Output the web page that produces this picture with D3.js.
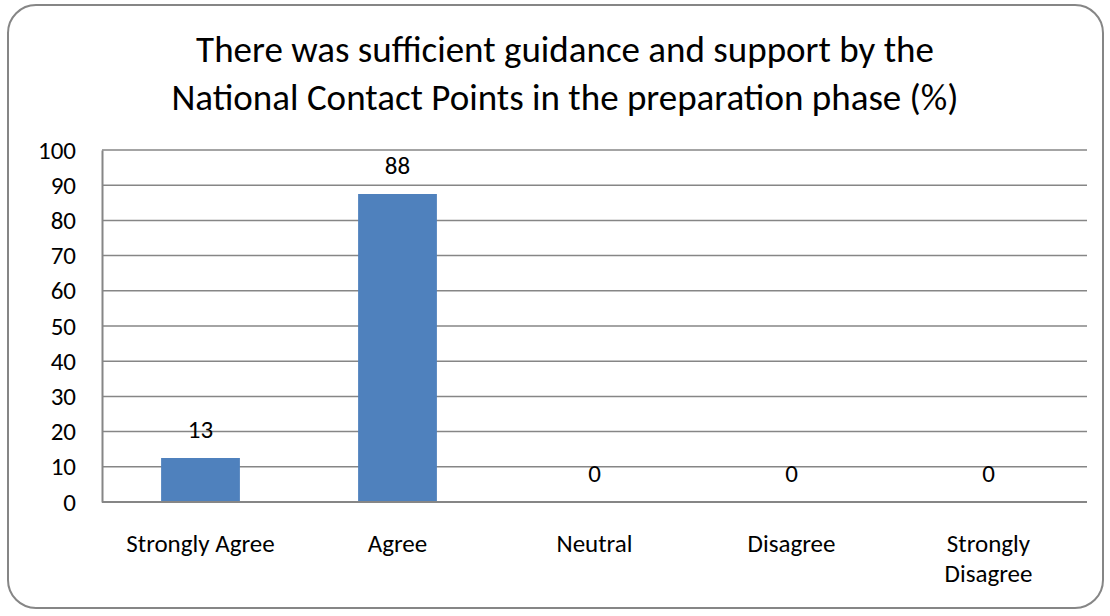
<!DOCTYPE html>
<html>
<head>
<meta charset="utf-8">
<script src="https://cdn.jsdelivr.net/npm/d3@7"></script>
<style>
  body { margin: 0; background: #fff; }
  text { font-family: Carlito, Calibri, "Open Sans", sans-serif; fill: #000; }
</style>
</head>
<body>
<div id="chart-container"></div>
<script>
// chart data
var categories = ['Strongly Agree', 'Agree', 'Neutral', 'Disagree', 'Strongly Disagree'];
var values = [12.5, 87.5, 0, 0, 0];
var yTicks = [0, 10, 20, 30, 40, 50, 60, 70, 80, 90, 100];
var titleLines = ['There was sufficient guidance and support by the',
                  'National Contact Points in the preparation phase (%)'];

function visualise() {
  const svgWidth = 1110;
  const svgHeight = 616;
  const margin = {top: 150, left: 102, bottom: 114, right: 23};
  const w = svgWidth - margin.left - margin.right;
  const h = svgHeight - margin.top - margin.bottom;
  const labelFont = 25;

  const svg = d3.select('#chart-container')
      .append('svg')
      .attr('width', svgWidth)
      .attr('height', svgHeight);

  // outer frame
  svg.append('rect')
      .attr('x', 8).attr('y', 5)
      .attr('width', 1095).attr('height', 603)
      .attr('rx', 28).attr('ry', 28)
      .attr('fill', '#fff')
      .attr('stroke', '#868686')
      .attr('stroke-width', 2);

  // title
  svg.append('g').selectAll('text')
      .data(titleLines)
      .enter().append('text')
      .attr('x', 565)
      .attr('y', function(d, i) { return 62 + i * 48; })
      .attr('text-anchor', 'middle')
      .attr('font-size', 37)
      .text(function(d) { return d; });

  const chart = svg.append('g')
      .attr('transform', 'translate(' + margin.left + ',' + margin.top + ')');

  const x = d3.scaleBand()
      .domain(categories)
      .range([0, w])
      .paddingInner(0.6)
      .paddingOuter(0.3);

  const y = d3.scaleLinear()
      .domain([0, 100])
      .range([h, 0]);

  // gridlines
  chart.append('g').selectAll('line')
      .data(yTicks.filter(function(t) { return t > 0; }))
      .enter().append('line')
      .attr('x1', 0).attr('x2', w)
      .attr('y1', function(d) { return y(d); })
      .attr('y2', function(d) { return y(d); })
      .attr('stroke', '#868686')
      .attr('stroke-width', 1.5);

  // y axis
  const yAxis = chart.append('g')
      .call(d3.axisLeft(y).tickValues(yTicks).tickSize(0).tickPadding(26));
  yAxis.select('.domain').attr('stroke', '#868686').attr('stroke-width', 2);
  yAxis.selectAll('text')
      .attr('font-size', labelFont)
      .attr('font-family', 'Carlito, Calibri, "Open Sans", sans-serif');

  // bars
  chart.selectAll('.bar')
      .data(values)
      .enter().append('rect')
      .attr('class', 'bar')
      .attr('x', function(d, i) { return x(categories[i]); })
      .attr('y', function(d) { return y(d); })
      .attr('width', x.bandwidth())
      .attr('height', function(d) { return h - y(d); })
      .attr('fill', '#4F81BD');

  // x axis line
  chart.append('line')
      .attr('x1', 0).attr('x2', w)
      .attr('y1', h).attr('y2', h)
      .attr('stroke', '#868686').attr('stroke-width', 2);

  // value labels
  chart.selectAll('.val')
      .data(values)
      .enter().append('text')
      .attr('class', 'val')
      .attr('x', function(d, i) { return x(categories[i]) + x.bandwidth() / 2; })
      .attr('y', function(d) { return y(d) - 20; })
      .attr('text-anchor', 'middle')
      .attr('font-size', labelFont)
      .text(function(d) { return Math.round(d); });

  // category labels, wrapped like the original
  const lab = chart.selectAll('.cat')
      .data(categories)
      .enter().append('text')
      .attr('class', 'cat')
      .attr('text-anchor', 'middle')
      .attr('font-size', labelFont)
      .attr('transform', function(d) { return 'translate(' + (x(d) + x.bandwidth() / 2) + ',' + (h + 50) + ')'; });
  lab.each(function(d) {
    var parts = d === 'Strongly Disagree' ? ['Strongly', 'Disagree'] : [d];
    d3.select(this).selectAll('tspan')
        .data(parts)
        .enter().append('tspan')
        .attr('x', 0)
        .attr('dy', function(p, i) { return i === 0 ? 0 : 30; })
        .text(function(p) { return p; });
  });
}

document.addEventListener('DOMContentLoaded', visualise);
</script>
</body>
</html>
